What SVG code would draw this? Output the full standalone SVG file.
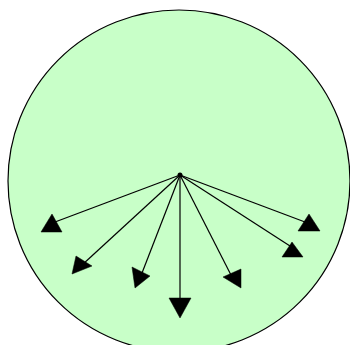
<svg xmlns="http://www.w3.org/2000/svg" width="350" height="345" viewBox="0 0 350 345">
<style>
.circ{fill:#c8ffc8;stroke:#000;stroke-width:1.2}
.ln{stroke:#000;stroke-width:1.2;fill:none}
.hd{fill:#000;stroke:#000;stroke-width:0.5}
</style>
<rect width="350" height="345" fill="#fff"/>
<g id="circle"><circle class="circ" cx="179" cy="181" r="171"/></g>
<g id="hub"><circle cx="180" cy="175" r="2.5" fill="#000"/></g>
<g id="connectors">
<line class="ln" x1="180" y1="175" x2="55" y2="222"/>
<line class="ln" x1="180" y1="175" x2="82" y2="265"/>
<line class="ln" x1="180" y1="175" x2="142" y2="273"/>
<line class="ln" x1="180" y1="175" x2="180" y2="300"/>
<line class="ln" x1="180" y1="175" x2="232" y2="277"/>
<line class="ln" x1="180" y1="175" x2="290" y2="246"/>
<line class="ln" x1="180" y1="175" x2="305" y2="222"/>
<polygon class="hd" points="52,214 41,232 62,232"/>
<polygon class="hd" points="76,256 72,274 92,266"/>
<polygon class="hd" points="132,267 135,288 150,276"/>
<polygon class="hd" points="169,298 191,298 180,318"/>
<polygon class="hd" points="223,277 241,269 241,288"/>
<polygon class="hd" points="292,242 282,257 303,257"/>
<polygon class="hd" points="309,214 298,231 320,231"/>
</g>
</svg>
